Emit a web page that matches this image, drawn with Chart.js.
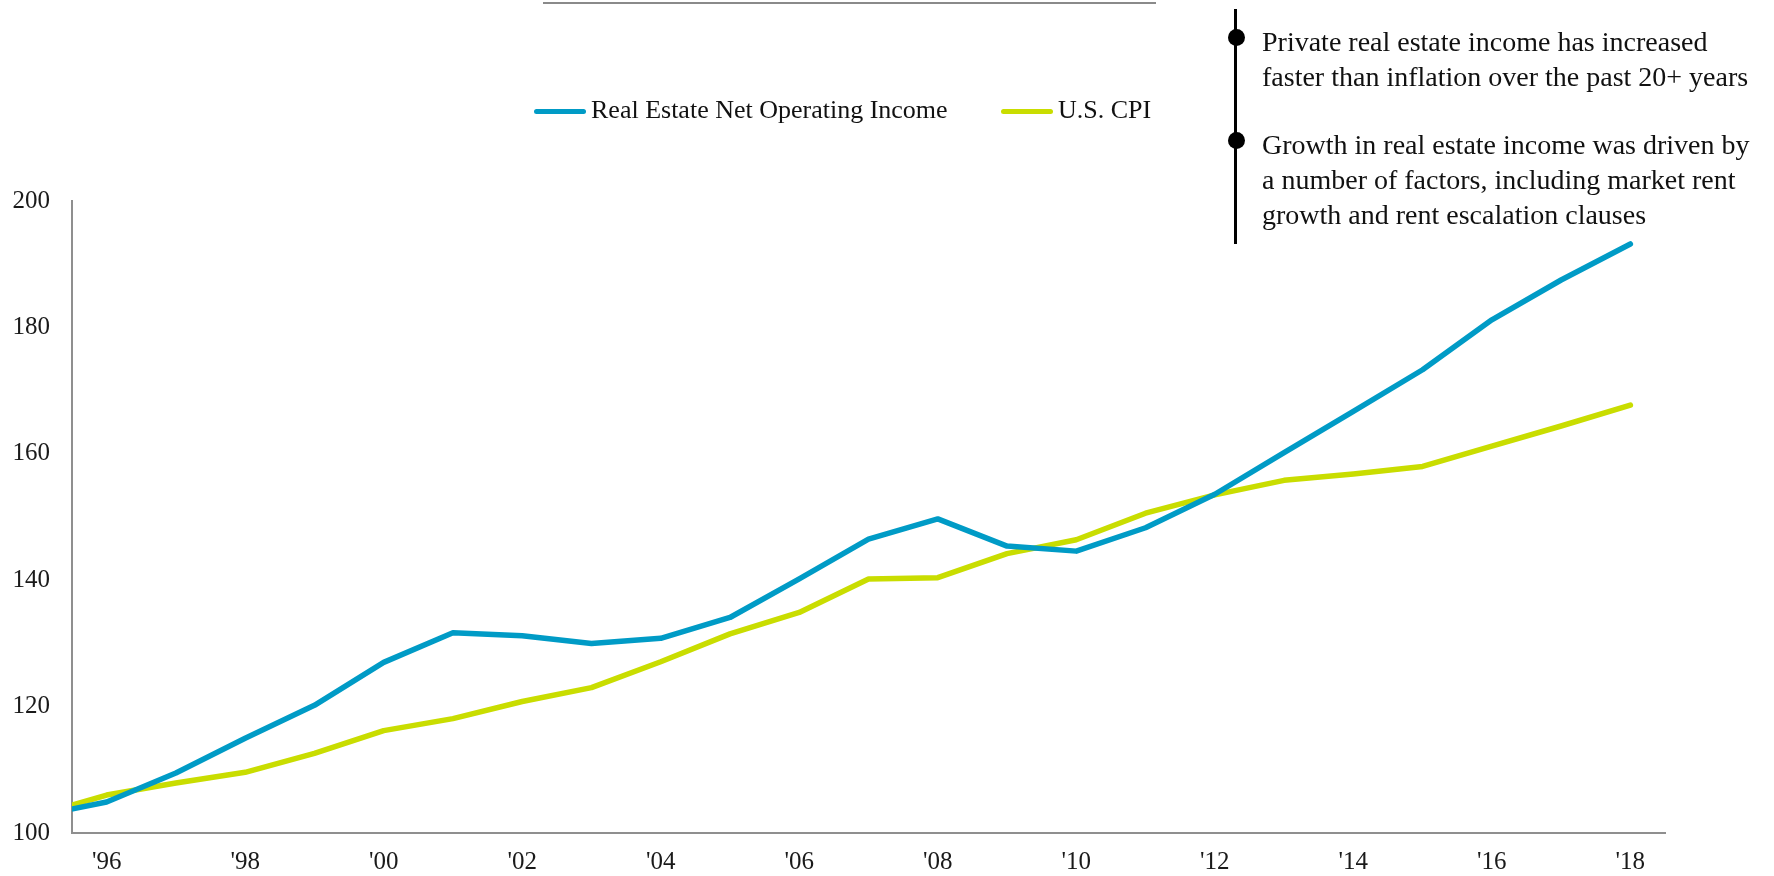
<!DOCTYPE html>
<html>
<head>
<meta charset="utf-8">
<script src="https://cdn.jsdelivr.net/npm/chart.js@4/dist/chart.umd.min.js"></script>
<style>
  html, body { margin: 0; padding: 0; background: #fff; }
  #wrap { position: relative; width: 1774px; height: 876px; font-family: "Liberation Serif", "DejaVu Serif", serif; color: #000; }
  #chart { position: absolute; left: 0; top: 0; }
  .topline { position: absolute; left: 543px; top: 2px; width: 613px; height: 2px; background: #8a8a8a; }
  .leg { position: absolute; top: 95px; font-size: 26px; line-height: 30px; white-space: nowrap; color: #111; }
  .leg .sw { display: inline-block; width: 52px; height: 5px; border-radius: 3px; vertical-align: middle; margin-right: 5px; position: relative; top: -1px; }
  .vbar { position: absolute; left: 1234px; top: 9px; width: 3px; height: 235px; background: #000; }
  .dot { position: absolute; left: 1228px; width: 17px; height: 17px; border-radius: 50%; background: #000; }
  .note { position: absolute; left: 1262px; font-size: 28px; line-height: 35px; white-space: nowrap; color: #111; }
</style>
</head>
<body>
<div id="wrap">
  <canvas id="chart" width="1774" height="876"></canvas>
  <div class="topline"></div>
  <div class="leg" id="leg1" style="left:534px"></div>
  <div class="leg" id="leg2" style="left:1001px"></div>
  <div class="vbar"></div>
  <div class="dot" style="top:29px"></div>
  <div class="dot" style="top:132px"></div>
  <div class="note" style="top:24px">Private real estate income has increased<br>faster than inflation over the past 20+ years</div>
  <div class="note" style="top:127px">Growth in real estate income was driven by<br>a number of factors, including market rent<br>growth and rent escalation clauses</div>
</div>
<script>
// indexed values (1995 is just left of the axis start)
const years = [1995, 1996, 1997, 1998, 1999, 2000, 2001, 2002, 2003, 2004, 2005, 2006,
               2007, 2008, 2009, 2010, 2011, 2012, 2013, 2014, 2015, 2016, 2017, 2018];
const noi = [102.7, 104.9, 109.5, 115.0, 120.2, 127.0, 131.7, 131.2, 130.0, 130.8, 134.1, 140.2,
             146.5, 149.7, 145.4, 144.6, 148.3, 153.6, 160.2, 166.7, 173.3, 181.2, 187.5, 193.2];
const cpi = [102.8, 106.0, 107.9, 109.6, 112.6, 116.2, 118.1, 120.8, 123.0, 127.1, 131.5, 134.9,
             140.2, 140.4, 144.2, 146.4, 150.6, 153.5, 155.8, 156.8, 158.0, 161.2, 164.4, 167.7];
const tickYears = [1996, 1998, 2000, 2002, 2004, 2006, 2008, 2010, 2012, 2014, 2016, 2018];
const yTicks = [100, 120, 140, 160, 180, 200];
const seriesNames = ['Real Estate Net Operating Income', 'U.S. CPI'];

const BLUE = '#009bc6';
const LIME = '#c9dd00';
const AXIS = '#8f8f8f';
const FONT = '"Liberation Serif", "DejaVu Serif", serif';

// legend (html)
[[seriesNames[0], BLUE, 'leg1'], [seriesNames[1], LIME, 'leg2']].forEach(([name, col, id]) => {
  document.getElementById(id).innerHTML = '<span class="sw" style="background:' + col + '"></span>' + name;
});

const pts = vals => years.map((y, i) => ({ x: y, y: vals[i] }));

new Chart(document.getElementById('chart').getContext('2d'), {
  type: 'line',
  data: {
    datasets: [
      { label: seriesNames[0], data: pts(noi), borderColor: BLUE, borderWidth: 5.5, pointRadius: 0,
        tension: 0, clip: 0, borderCapStyle: 'round', borderJoinStyle: 'round' },
      { label: seriesNames[1], data: pts(cpi), borderColor: LIME, borderWidth: 5.5, pointRadius: 0,
        tension: 0, clip: 0, borderCapStyle: 'round', borderJoinStyle: 'round' }
    ]
  },
  options: {
    responsive: false,
    animation: false,
    layout: { padding: { top: 201, right: 109, bottom: 0, left: 0 } },
    plugins: { legend: { display: false }, tooltip: { enabled: false } },
    scales: {
      x: {
        type: 'linear',
        min: 1995.5,
        max: 2018.5,
        afterBuildTicks: s => { s.ticks = tickYears.map(v => ({ value: v })); },
        afterFit: s => { s.height = 43; },
        grid: { display: false, drawTicks: false },
        border: { display: true, color: AXIS, width: 2 },
        ticks: {
          padding: 14, autoSkip: false, maxRotation: 0, color: '#1a1a1a',
          font: { family: FONT, size: 25 },
          callback: v => "'" + String(v).slice(2)
        }
      },
      y: {
        min: 100,
        max: 200,
        afterBuildTicks: s => { s.ticks = yTicks.map(v => ({ value: v })); },
        afterFit: s => { s.width = 72; },
        grid: { display: false, drawTicks: false },
        border: { display: true, color: AXIS, width: 2 },
        ticks: { padding: 22, color: '#1a1a1a', font: { family: FONT, size: 25 } }
      }
    }
  }
});
</script>
</body>
</html>
